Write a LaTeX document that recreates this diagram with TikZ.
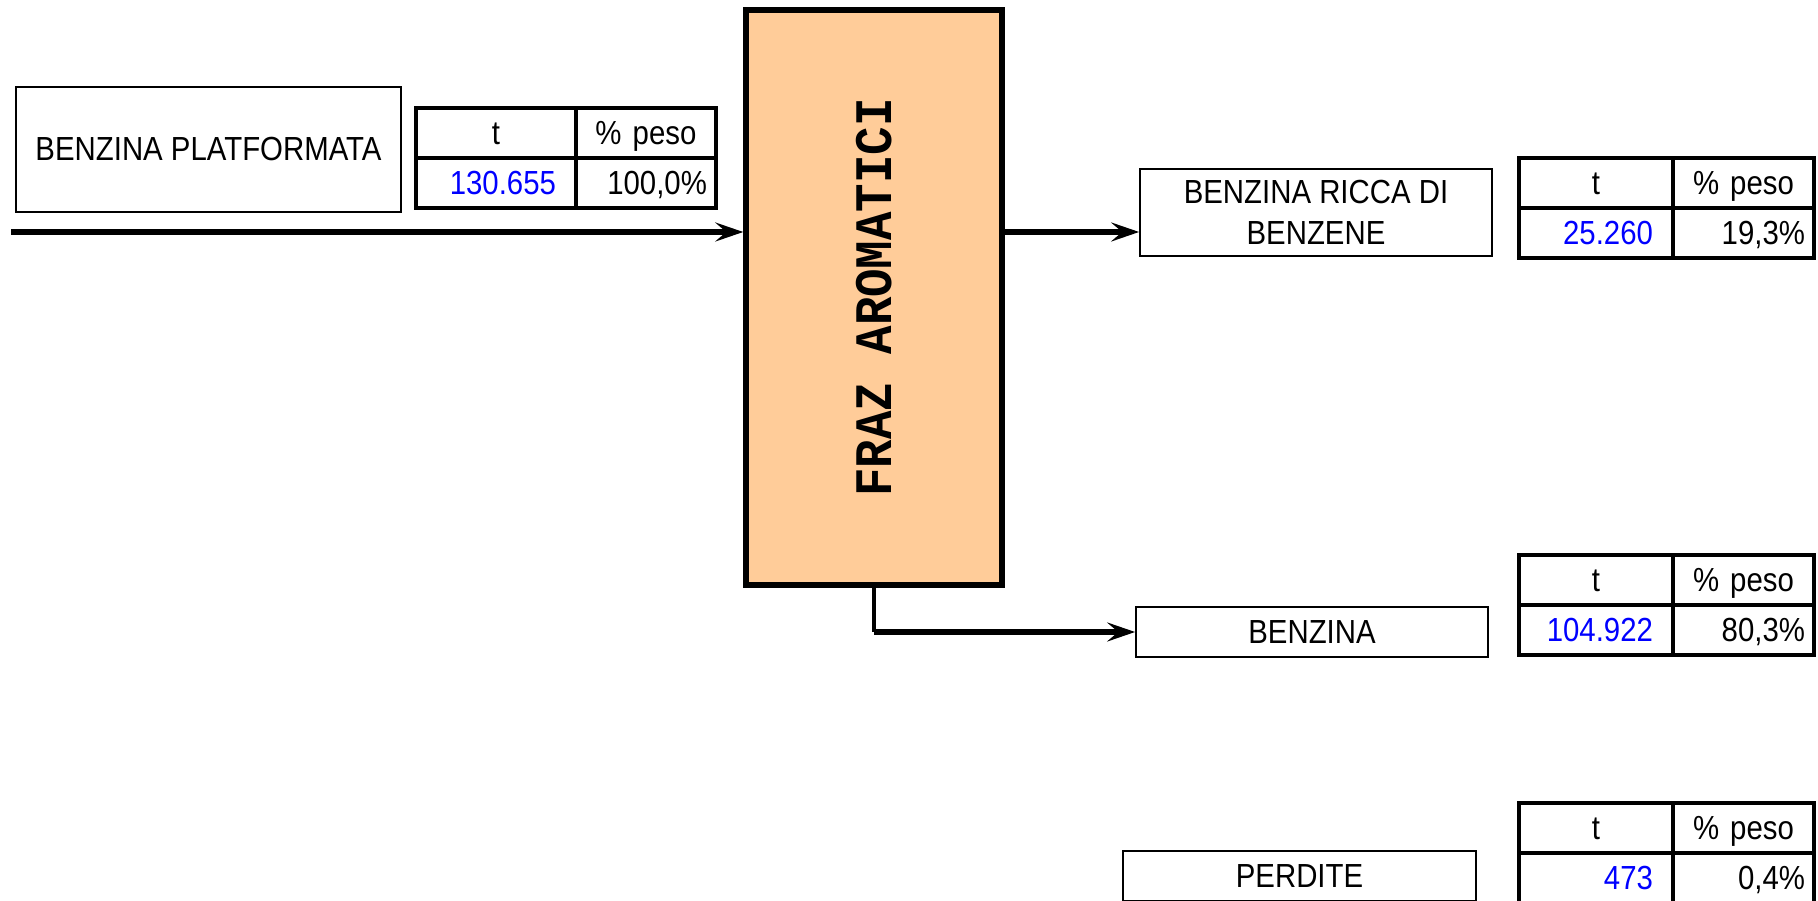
\documentclass[tikz,border=0pt]{standalone}
\usepackage{fontspec}
\setmainfont{Liberation Sans}[FakeStretch=0.88]
\newfontfamily\unitfont{Liberation Mono}[FakeStretch=0.9]
\usepackage{graphicx}
\usepackage{xcolor}
\usetikzlibrary{arrows.meta, positioning}
\definecolor{unitfill}{RGB}{255,204,153}

\begin{document}
\begin{tikzpicture}[
    x=0.02cm, y=-0.02cm,
    font=\fontsize{19}{23}\selectfont,
    stream/.style={draw, line width=0.035cm, minimum height=1cm, align=center, inner sep=0pt},
    unit/.style={draw, line width=0.11cm, fill=unitfill, minimum width=5.12cm, minimum height=11.5cm},
    cell/.style={draw, line width=0.066cm, minimum height=1cm, outer sep=0pt, inner ysep=0pt, text height=13.6pt, text depth=0pt},
    hA/.style={cell, text width=#1, inner xsep=0.4cm, align=center},
    hB/.style={cell, text width=#1, inner xsep=0.18cm, align=center},
    vA/.style={cell, text width=#1, inner xsep=0.4cm, align=right, text=blue},
    vB/.style={cell, text width=#1, inner xsep=0.18cm, align=right},
    flow/.style={-{Stealth[length=0.56cm, width=0.38cm, inset=0.22cm]}, line width=0.13cm},
    riser/.style={line width=0.08cm},
]
\useasboundingbox (0,0) rectangle (1818,901);
\clip (0,0) rectangle (1818,901);

% column and streams
\node[unit] (fraz) at (874,297.5) {\rotatebox{90}{\unitfont\bfseries\fontsize{30}{32}\selectfont FRAZ AROMATICI}};
\node[stream, minimum width=7.7cm, minimum height=2.5cm] (feed) at (208.5,149.5) {BENZINA PLATFORMATA};
\node[stream, minimum width=7.04cm, minimum height=1.74cm] (rich) at (1316,212.5) {BENZINA RICCA DI\\BENZENE};
\node[stream, minimum width=7.04cm] (benz) at (1312,632) {BENZINA};
\node[stream, minimum width=7.06cm] (loss) at (1299.5,876) {PERDITE};

% tables
\node[hA=2.4cm, anchor=north west] (feedt) at (416,108) {t};
\node[hB=2.44cm, right=0pt of feedt] (feedp) {\% peso};
\node[vA=2.4cm, below=0pt of feedt] (feedtv) {130.655};
\node[vB=2.44cm, below=0pt of feedp] (feedpv) {100,0\%};

\node[hA=2.28cm, anchor=north west] (richt) at (1519,158) {t};
\node[hB=2.46cm, right=0pt of richt] (richp) {\% peso};
\node[vA=2.28cm, below=0pt of richt] (richtv) {25.260};
\node[vB=2.46cm, below=0pt of richp] (richpv) {19,3\%};

\node[hA=2.28cm, anchor=north west] (benzt) at (1519,555) {t};
\node[hB=2.46cm, right=0pt of benzt] (benzp) {\% peso};
\node[vA=2.28cm, below=0pt of benzt] (benztv) {104.922};
\node[vB=2.46cm, below=0pt of benzp] (benzpv) {80,3\%};

\node[hA=2.28cm, anchor=north west] (losst) at (1519,803) {t};
\node[hB=2.46cm, right=0pt of losst] (lossp) {\% peso};
\node[vA=2.28cm, below=0pt of losst] (losstv) {473};
\node[vB=2.46cm, below=0pt of lossp] (losspv) {0,4\%};

% connectors
\coordinate (feedin) at (11,232);
\draw[flow] (feedin) -- (feedin -| fraz.west);
\draw[flow] (feedin -| fraz.east) -- (feedin -| rich.west);
\draw[riser] (fraz.south) -- (fraz.south |- benz.west);
\draw[flow] (fraz.south |- benz.west) -- (benz.west);
\end{tikzpicture}
\end{document}
